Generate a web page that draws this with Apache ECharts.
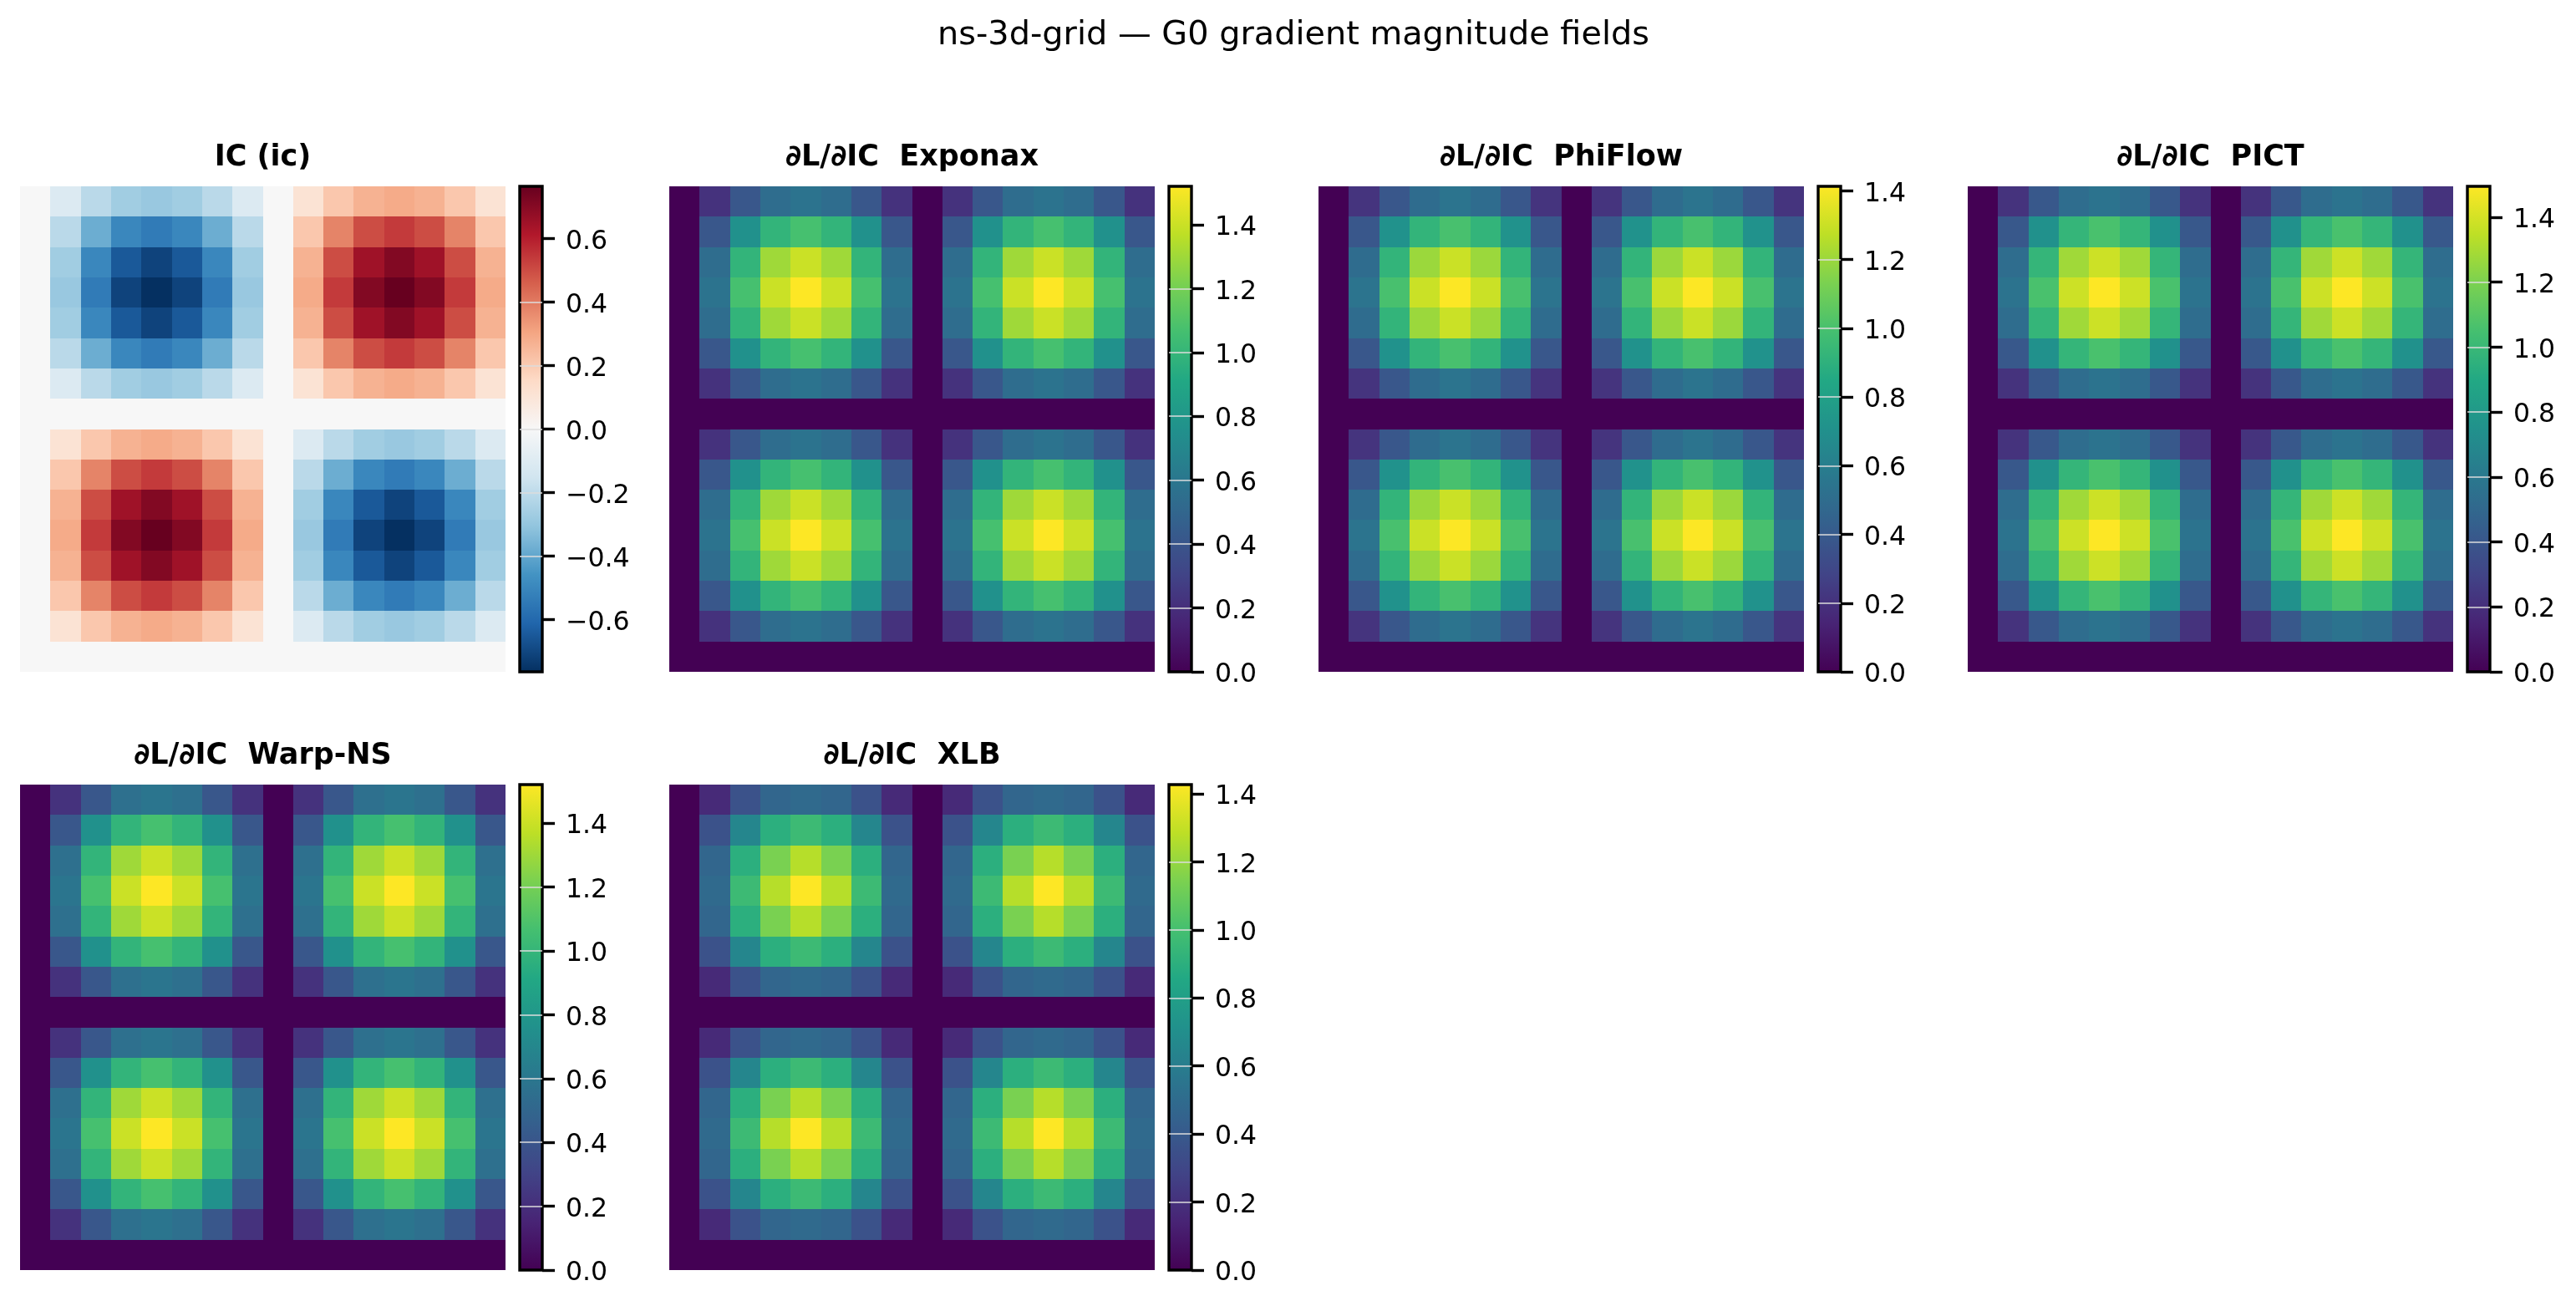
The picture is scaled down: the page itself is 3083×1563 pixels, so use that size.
<!DOCTYPE html>
<html>
<head>
<meta charset="utf-8">
<style>html,body{margin:0;padding:0;background:#fff}#c{width:3083px;height:1563px}</style>
<script src="https://cdn.jsdelivr.net/npm/echarts@6/dist/echarts.min.js"></script>
</head>
<body>
<div id="c"></div>
<script>
const suptitle = 'ns-3d-grid \u2014 G0 gradient magnitude fields';
const panelTitles = ['IC (ic)', '\u2202L/\u2202IC  Exponax', '\u2202L/\u2202IC  PhiFlow', '\u2202L/\u2202IC  PICT', '\u2202L/\u2202IC  Warp-NS', '\u2202L/\u2202IC  XLB'];
const rangeMax = [0.765, 1.52, 1.413, 1.495, 1.521, 1.427];
const gradTicks = [0, 0.2, 0.4, 0.6, 0.8, 1.0, 1.2, 1.4];
const icTicks = [-0.6, -0.4, -0.2, 0, 0.2, 0.4, 0.6];
const viridis = ['#440154','#482475','#414487','#355f8d','#2a788e','#21918c','#22a884','#44bf70','#7ad151','#bddf26','#fde725'];
const rdbu = ['#053061','#2166ac','#4393c3','#92c5de','#d1e5f0','#f7f7f7','#fddbc7','#f4a582','#d6604d','#b2182b','#67001f'];

const icField = [
[0,-.11,-.21,-.27,-.29,-.27,-.21,-.11,0,.11,.21,.27,.29,.27,.21,.11],
[0,-.21,-.38,-.50,-.54,-.50,-.38,-.21,0,.21,.38,.50,.54,.50,.38,.21],
[0,-.27,-.50,-.65,-.71,-.65,-.50,-.27,0,.27,.50,.65,.71,.65,.50,.27],
[0,-.29,-.54,-.71,-.765,-.71,-.54,-.29,0,.29,.54,.71,.765,.71,.54,.29],
[0,-.27,-.50,-.65,-.71,-.65,-.50,-.27,0,.27,.50,.65,.71,.65,.50,.27],
[0,-.21,-.38,-.50,-.54,-.50,-.38,-.21,0,.21,.38,.50,.54,.50,.38,.21],
[0,-.11,-.21,-.27,-.29,-.27,-.21,-.11,0,.11,.21,.27,.29,.27,.21,.11],
[0,0,0,0,0,0,0,0,0,0,0,0,0,0,0,0],
[0,.11,.21,.27,.29,.27,.21,.11,0,-.11,-.21,-.27,-.29,-.27,-.21,-.11],
[0,.21,.38,.50,.54,.50,.38,.21,0,-.21,-.38,-.50,-.54,-.50,-.38,-.21],
[0,.27,.50,.65,.71,.65,.50,.27,0,-.27,-.50,-.65,-.71,-.65,-.50,-.27],
[0,.29,.54,.71,.765,.71,.54,.29,0,-.29,-.54,-.71,-.765,-.71,-.54,-.29],
[0,.27,.50,.65,.71,.65,.50,.27,0,-.27,-.50,-.65,-.71,-.65,-.50,-.27],
[0,.21,.38,.50,.54,.50,.38,.21,0,-.21,-.38,-.50,-.54,-.50,-.38,-.21],
[0,.11,.21,.27,.29,.27,.21,.11,0,-.11,-.21,-.27,-.29,-.27,-.21,-.11],
[0,0,0,0,0,0,0,0,0,0,0,0,0,0,0,0]];

const exponaxField = [
[0,.22,.41,.54,.58,.54,.41,.22,0,.22,.41,.54,.58,.54,.41,.22],
[0,.41,.76,.99,1.07,.99,.76,.41,0,.41,.76,.99,1.07,.99,.76,.41],
[0,.54,.99,1.30,1.40,1.30,.99,.54,0,.54,.99,1.30,1.40,1.30,.99,.54],
[0,.58,1.07,1.40,1.52,1.40,1.07,.58,0,.58,1.07,1.40,1.52,1.40,1.07,.58],
[0,.54,.99,1.30,1.40,1.30,.99,.54,0,.54,.99,1.30,1.40,1.30,.99,.54],
[0,.41,.76,.99,1.07,.99,.76,.41,0,.41,.76,.99,1.07,.99,.76,.41],
[0,.22,.41,.54,.58,.54,.41,.22,0,.22,.41,.54,.58,.54,.41,.22],
[0,0,0,0,0,0,0,0,0,0,0,0,0,0,0,0],
[0,.22,.41,.54,.58,.54,.41,.22,0,.22,.41,.54,.58,.54,.41,.22],
[0,.41,.76,.99,1.07,.99,.76,.41,0,.41,.76,.99,1.07,.99,.76,.41],
[0,.54,.99,1.30,1.40,1.30,.99,.54,0,.54,.99,1.30,1.40,1.30,.99,.54],
[0,.58,1.07,1.40,1.52,1.40,1.07,.58,0,.58,1.07,1.40,1.52,1.40,1.07,.58],
[0,.54,.99,1.30,1.40,1.30,.99,.54,0,.54,.99,1.30,1.40,1.30,.99,.54],
[0,.41,.76,.99,1.07,.99,.76,.41,0,.41,.76,.99,1.07,.99,.76,.41],
[0,.22,.41,.54,.58,.54,.41,.22,0,.22,.41,.54,.58,.54,.41,.22],
[0,0,0,0,0,0,0,0,0,0,0,0,0,0,0,0]];

const phiflowField = [
[0,.21,.38,.50,.54,.50,.38,.21,0,.21,.38,.50,.54,.50,.38,.21],
[0,.38,.71,.92,1.00,.92,.71,.38,0,.38,.71,.92,1.00,.92,.71,.38],
[0,.50,.92,1.20,1.30,1.20,.92,.50,0,.50,.92,1.20,1.30,1.20,.92,.50],
[0,.54,1.00,1.30,1.41,1.30,1.00,.54,0,.54,1.00,1.30,1.41,1.30,1.00,.54],
[0,.50,.92,1.20,1.30,1.20,.92,.50,0,.50,.92,1.20,1.30,1.20,.92,.50],
[0,.38,.71,.92,1.00,.92,.71,.38,0,.38,.71,.92,1.00,.92,.71,.38],
[0,.21,.38,.50,.54,.50,.38,.21,0,.21,.38,.50,.54,.50,.38,.21],
[0,0,0,0,0,0,0,0,0,0,0,0,0,0,0,0],
[0,.21,.38,.50,.54,.50,.38,.21,0,.21,.38,.50,.54,.50,.38,.21],
[0,.38,.71,.92,1.00,.92,.71,.38,0,.38,.71,.92,1.00,.92,.71,.38],
[0,.50,.92,1.20,1.30,1.20,.92,.50,0,.50,.92,1.20,1.30,1.20,.92,.50],
[0,.54,1.00,1.30,1.41,1.30,1.00,.54,0,.54,1.00,1.30,1.41,1.30,1.00,.54],
[0,.50,.92,1.20,1.30,1.20,.92,.50,0,.50,.92,1.20,1.30,1.20,.92,.50],
[0,.38,.71,.92,1.00,.92,.71,.38,0,.38,.71,.92,1.00,.92,.71,.38],
[0,.21,.38,.50,.54,.50,.38,.21,0,.21,.38,.50,.54,.50,.38,.21],
[0,0,0,0,0,0,0,0,0,0,0,0,0,0,0,0]];

const pictField = [
[0,.22,.41,.53,.57,.53,.41,.22,0,.22,.41,.53,.57,.53,.41,.22],
[0,.41,.75,.98,1.06,.98,.75,.41,0,.41,.75,.98,1.06,.98,.75,.41],
[0,.53,.98,1.28,1.38,1.28,.98,.53,0,.53,.98,1.28,1.38,1.28,.98,.53],
[0,.57,1.06,1.38,1.495,1.38,1.06,.57,0,.57,1.06,1.38,1.495,1.38,1.06,.57],
[0,.53,.98,1.28,1.38,1.28,.98,.53,0,.53,.98,1.28,1.38,1.28,.98,.53],
[0,.41,.75,.98,1.06,.98,.75,.41,0,.41,.75,.98,1.06,.98,.75,.41],
[0,.22,.41,.53,.57,.53,.41,.22,0,.22,.41,.53,.57,.53,.41,.22],
[0,0,0,0,0,0,0,0,0,0,0,0,0,0,0,0],
[0,.22,.41,.53,.57,.53,.41,.22,0,.22,.41,.53,.57,.53,.41,.22],
[0,.41,.75,.98,1.06,.98,.75,.41,0,.41,.75,.98,1.06,.98,.75,.41],
[0,.53,.98,1.28,1.38,1.28,.98,.53,0,.53,.98,1.28,1.38,1.28,.98,.53],
[0,.57,1.06,1.38,1.495,1.38,1.06,.57,0,.57,1.06,1.38,1.495,1.38,1.06,.57],
[0,.53,.98,1.28,1.38,1.28,.98,.53,0,.53,.98,1.28,1.38,1.28,.98,.53],
[0,.41,.75,.98,1.06,.98,.75,.41,0,.41,.75,.98,1.06,.98,.75,.41],
[0,.22,.41,.53,.57,.53,.41,.22,0,.22,.41,.53,.57,.53,.41,.22],
[0,0,0,0,0,0,0,0,0,0,0,0,0,0,0,0]];

const warpField = [
[0,.22,.41,.56,.59,.56,.41,.22,0,.22,.41,.56,.59,.56,.41,.22],
[0,.41,.76,.99,1.07,.99,.76,.41,0,.41,.76,.99,1.07,.99,.76,.41],
[0,.56,.99,1.30,1.40,1.30,.99,.56,0,.56,.99,1.30,1.40,1.30,.99,.56],
[0,.59,1.07,1.40,1.52,1.40,1.07,.59,0,.59,1.07,1.40,1.52,1.40,1.07,.59],
[0,.56,.99,1.30,1.40,1.30,.99,.56,0,.56,.99,1.30,1.40,1.30,.99,.56],
[0,.41,.76,.99,1.07,.99,.76,.41,0,.41,.76,.99,1.07,.99,.76,.41],
[0,.22,.41,.56,.59,.56,.41,.22,0,.22,.41,.56,.59,.56,.41,.22],
[0,0,0,0,0,0,0,0,0,0,0,0,0,0,0,0],
[0,.22,.41,.56,.59,.56,.41,.22,0,.22,.41,.56,.59,.56,.41,.22],
[0,.41,.76,.99,1.07,.99,.76,.41,0,.41,.76,.99,1.07,.99,.76,.41],
[0,.56,.99,1.30,1.40,1.30,.99,.56,0,.56,.99,1.30,1.40,1.30,.99,.56],
[0,.59,1.07,1.40,1.52,1.40,1.07,.59,0,.59,1.07,1.40,1.52,1.40,1.07,.59],
[0,.56,.99,1.30,1.40,1.30,.99,.56,0,.56,.99,1.30,1.40,1.30,.99,.56],
[0,.41,.76,.99,1.07,.99,.76,.41,0,.41,.76,.99,1.07,.99,.76,.41],
[0,.22,.41,.56,.59,.56,.41,.22,0,.22,.41,.56,.59,.56,.41,.22],
[0,0,0,0,0,0,0,0,0,0,0,0,0,0,0,0]];

const xlbField = [
[0,.17,.36,.47,.49,.47,.36,.17,0,.17,.36,.47,.49,.47,.36,.17],
[0,.36,.65,.90,.97,.90,.65,.36,0,.36,.65,.90,.97,.90,.65,.36],
[0,.47,.90,1.14,1.27,1.14,.90,.47,0,.47,.90,1.14,1.27,1.14,.90,.47],
[0,.49,.97,1.27,1.427,1.27,.97,.49,0,.49,.97,1.27,1.427,1.27,.97,.49],
[0,.47,.90,1.14,1.27,1.14,.90,.47,0,.47,.90,1.14,1.27,1.14,.90,.47],
[0,.36,.65,.90,.97,.90,.65,.36,0,.36,.65,.90,.97,.90,.65,.36],
[0,.17,.36,.47,.49,.47,.36,.17,0,.17,.36,.47,.49,.47,.36,.17],
[0,0,0,0,0,0,0,0,0,0,0,0,0,0,0,0],
[0,.17,.36,.47,.49,.47,.36,.17,0,.17,.36,.47,.49,.47,.36,.17],
[0,.36,.65,.90,.97,.90,.65,.36,0,.36,.65,.90,.97,.90,.65,.36],
[0,.47,.90,1.14,1.27,1.14,.90,.47,0,.47,.90,1.14,1.27,1.14,.90,.47],
[0,.49,.97,1.27,1.427,1.27,.97,.49,0,.49,.97,1.27,1.427,1.27,.97,.49],
[0,.47,.90,1.14,1.27,1.14,.90,.47,0,.47,.90,1.14,1.27,1.14,.90,.47],
[0,.36,.65,.90,.97,.90,.65,.36,0,.36,.65,.90,.97,.90,.65,.36],
[0,.17,.36,.47,.49,.47,.36,.17,0,.17,.36,.47,.49,.47,.36,.17],
[0,0,0,0,0,0,0,0,0,0,0,0,0,0,0,0]];

const fields = [icField, exponaxField, phiflowField, pictField, warpField, xlbField];

// layout (reference pixels)
const FONT = '"DejaVu Sans"';
const W = 581, H = 581, CBX = 598, CBW = 27;
const lefts = [24, 801, 1578, 2355, 24, 801];
const tops = [223, 223, 223, 223, 939, 939];
const cells = Array.from({length: 16}, (_, i) => String(i));

const option = {
  backgroundColor: '#fff',
  animation: false,
  title: [{
    text: suptitle, left: 1548, top: 23, textAlign: 'center', padding: 0,
    textStyle: {fontFamily: FONT, fontSize: 39.8, fontWeight: 'normal', color: '#000'}
  }],
  grid: [], xAxis: [], yAxis: [], series: [], visualMap: []
};

function renderCell(params, api) {
  const c = api.coord([api.value(0), api.value(1)]);
  const s = api.size([1, 1]);
  const x0 = Math.round(c[0] - s[0] / 2), x1 = Math.round(c[0] + s[0] / 2);
  const y0 = Math.round(c[1] - s[1] / 2), y1 = Math.round(c[1] + s[1] / 2);
  return {type: 'rect', shape: {x: x0, y: y0, width: x1 - x0, height: y1 - y0}, style: {fill: api.visual('color')}};
}

fields.forEach((field, p) => {
  const isIC = p === 0;
  const vmax = rangeMax[p], vmin = isIC ? -vmax : 0;
  const colors = isIC ? rdbu : viridis;
  const ticks = isIC ? icTicks : gradTicks;
  const L = lefts[p], T = tops[p];

  option.title.push({
    text: panelTitles[p], left: L + W / 2, top: T - 52, textAlign: 'center', padding: 0,
    textStyle: {fontFamily: FONT, fontSize: 35, fontWeight: 'bold', color: '#000'}
  });

  // field cells
  const gi = option.grid.length;
  option.grid.push({left: L, top: T, width: W, height: H, containLabel: false});
  option.xAxis.push({type: 'category', gridIndex: gi, data: cells, show: false});
  option.yAxis.push({type: 'category', gridIndex: gi, data: cells, inverse: true, show: false});
  const data = [];
  field.forEach((row, y) => row.forEach((v, x) => data.push([x, y, v])));
  const si = option.series.length;
  option.series.push({type: 'custom', name: panelTitles[p], xAxisIndex: gi, yAxisIndex: gi, data, silent: true,
    encode: {x: 0, y: 1, value: 2}, renderItem: renderCell});
  option.visualMap.push({show: false, type: 'continuous', seriesIndex: si, dimension: 2, min: vmin, max: vmax, inRange: {color: colors}});

  // colour bar
  const gc = option.grid.length;
  option.grid.push({left: L + CBX, top: T, width: CBW, height: H, containLabel: false});
  option.xAxis.push({type: 'value', gridIndex: gc, min: 0, max: 1, show: false});
  option.yAxis.push({
    type: 'value', gridIndex: gc, position: 'right', min: vmin, max: vmax, z: 5,
    axisLine: {show: false, onZero: false},
    axisTick: {show: true, inside: false, length: 15, lineStyle: {color: '#000', width: 3.4}, customValues: ticks},
    axisLabel: {show: true, margin: 28, fontFamily: FONT, fontSize: 31.5, color: '#000', customValues: ticks,
      verticalAlign: 'top', lineHeight: 8,
      formatter: v => v.toFixed(1).replace('-', '\u2212')},
    splitLine: {show: true, showMinLine: false, showMaxLine: false, lineStyle: {color: '#dddddd', width: 1.5}}
  });
  const stops = colors.map((c, i) => ({offset: 1 - i / (colors.length - 1), color: c}));
  option.series.push({
    type: 'custom', xAxisIndex: gc, yAxisIndex: gc, silent: true, clip: false, z: 2,
    data: [[0, vmin, 1, vmax]],
    encode: {x: [0, 2], y: [1, 3]},
    renderItem(params, api) {
      const a = api.coord([api.value(0), api.value(3)]);
      const b = api.coord([api.value(2), api.value(1)]);
      const shape = {x: a[0], y: a[1], width: b[0] - a[0], height: b[1] - a[1]};
      return {type: 'group', children: [
        {type: 'rect', shape, style: {fill: new echarts.graphic.LinearGradient(0, 0, 0, 1, stops)}},
        {type: 'rect', shape, z2: 10, style: {fill: 'none', stroke: '#000', lineWidth: 3.4}}
      ]};
    }
  });
});

const chart = echarts.init(document.getElementById('c'), null, {renderer: 'canvas', width: 3083, height: 1563});
chart.setOption(option);
</script>
</body>
</html>
